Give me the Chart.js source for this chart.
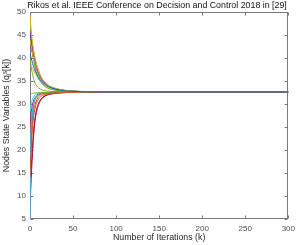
<!DOCTYPE html>
<html>
<head>
<meta charset="utf-8">
<script src="https://cdn.jsdelivr.net/npm/chart.js@4.4.1/dist/chart.umd.min.js"></script>
<style>html,body{margin:0;padding:0;background:#fff;overflow:hidden}</style>
</head>
<body>
<canvas id="chart" width="300" height="245"></canvas>
<script>
const iterations = [0, 1, 2, 3, 4, 5, 6, 8, 10, 12, 15, 20, 25, 30, 40, 50, 60, 80, 100, 150, 300];

const node01 = [41, 40.2, 39.5, 38.8, 38.2, 37.7, 37.2, 36.4, 35.7, 35.2, 34.6, 33.9, 33.5, 33.2, 32.9, 32.75, 32.68, 32.63, 32.61, 32.6, 32.6];
const node02 = [14, 18.5, 22, 24.8, 26.8, 28.2, 29.2, 30.4, 31.1, 31.5, 31.9, 32.2, 32.35, 32.42, 32.5, 32.54, 32.56, 32.58, 32.59, 32.6, 32.6];
const node03 = [49.2, 46.8, 44.8, 43.2, 41.9, 40.8, 39.8, 38.3, 37.1, 36.2, 35.2, 34.2, 33.7, 33.35, 32.98, 32.8, 32.72, 32.65, 32.62, 32.6, 32.6];
const node04 = [46, 44.6, 43.3, 42.1, 41.1, 40.2, 39.4, 38, 36.9, 36, 35.1, 34.1, 33.6, 33.3, 32.95, 32.78, 32.7, 32.64, 32.62, 32.6, 32.6];
const node05 = [31.8, 32.2, 32.3, 32.32, 32.35, 32.37, 32.4, 32.42, 32.45, 32.47, 32.5, 32.52, 32.54, 32.55, 32.57, 32.58, 32.59, 32.6, 32.6, 32.6, 32.6];
const node06 = [5, 22, 26.5, 28.8, 30, 30.8, 31.3, 31.8, 32.1, 32.25, 32.38, 32.48, 32.53, 32.56, 32.58, 32.59, 32.6, 32.6, 32.6, 32.6, 32.6];
const node07 = [8, 12, 16, 19.5, 22.5, 24.8, 26.5, 28.6, 29.9, 30.7, 31.4, 31.95, 32.2, 32.35, 32.48, 32.54, 32.57, 32.59, 32.6, 32.6, 32.6];
const node08 = [10, 20, 25.5, 28.3, 29.8, 30.7, 31.2, 31.8, 32.1, 32.25, 32.38, 32.47, 32.52, 32.55, 32.58, 32.59, 32.6, 32.6, 32.6, 32.6, 32.6];
const node09 = [22, 25, 27.3, 28.8, 29.8, 30.5, 31, 31.6, 31.95, 32.15, 32.3, 32.43, 32.5, 32.53, 32.56, 32.58, 32.59, 32.6, 32.6, 32.6, 32.6];
const node10 = [44, 43, 42, 41.1, 40.3, 39.5, 38.8, 37.6, 36.6, 35.8, 34.9, 34, 33.55, 33.25, 32.93, 32.77, 32.7, 32.64, 32.61, 32.6, 32.6];
const node11 = [25, 27.5, 29, 30, 30.6, 31.1, 31.4, 31.85, 32.1, 32.25, 32.38, 32.48, 32.53, 32.56, 32.58, 32.59, 32.6, 32.6, 32.6, 32.6, 32.6];
const node12 = [48.8, 45.5, 43, 41.2, 39.8, 38.7, 37.8, 36.5, 35.6, 34.9, 34.2, 33.5, 33.15, 32.95, 32.78, 32.7, 32.66, 32.62, 32.6, 32.6, 32.6];
const node13 = [48, 46, 44.3, 42.9, 41.7, 40.7, 39.8, 38.4, 37.2, 36.3, 35.3, 34.3, 33.75, 33.4, 33, 32.82, 32.73, 32.66, 32.62, 32.6, 32.6];
const node14 = [12, 15, 18.2, 21, 23.5, 25.6, 27.2, 29.1, 30.2, 30.9, 31.5, 32, 32.22, 32.36, 32.48, 32.54, 32.57, 32.59, 32.6, 32.6, 32.6];
const node15 = [45, 43.5, 42.2, 41.1, 40.2, 39.4, 38.7, 37.5, 36.6, 35.8, 34.9, 34, 33.55, 33.25, 32.92, 32.77, 32.7, 32.64, 32.61, 32.6, 32.6];
const node16 = [18, 21.5, 24.5, 26.6, 28.1, 29.2, 30, 31, 31.6, 31.95, 32.2, 32.38, 32.47, 32.52, 32.56, 32.58, 32.59, 32.6, 32.6, 32.6, 32.6];
const node17 = [38, 38.3, 38.1, 37.8, 37.4, 37, 36.6, 36, 35.4, 34.9, 34.3, 33.6, 33.25, 33.05, 32.85, 32.74, 32.68, 32.63, 32.61, 32.6, 32.6];
const node18 = [43, 42.4, 41.6, 40.8, 40, 39.3, 38.6, 37.4, 36.4, 35.6, 34.8, 33.95, 33.5, 33.2, 32.9, 32.76, 32.69, 32.64, 32.61, 32.6, 32.6];
const node19 = [40, 38.6, 37.4, 36.4, 35.6, 35, 34.5, 33.9, 33.5, 33.25, 33, 32.8, 32.7, 32.66, 32.63, 32.61, 32.6, 32.6, 32.6, 32.6, 32.6];
const node20 = [28, 29.6, 30.5, 31.1, 31.5, 31.8, 32, 32.2, 32.33, 32.41, 32.48, 32.53, 32.56, 32.57, 32.58, 32.59, 32.6, 32.6, 32.6, 32.6, 32.6];

const nodes = [node01, node02, node03, node04, node05, node06, node07, node08, node09, node10,
               node11, node12, node13, node14, node15, node16, node17, node18, node19, node20];

const xTicks = [0, 50, 100, 150, 200, 250, 300];
const yTicks = [5, 10, 15, 20, 25, 30, 35, 40, 45, 50];
const titleText = "Rikos et al. IEEE Conference on Decision and Control 2018 in [29]";

// matlab default line order
const colors = ["#0072BD", "#D95319", "#EDB120", "#7E2F8E", "#77AC30", "#4DBEEE", "#A2142F"];
const FONT = "'Liberation Sans', Arial, Helvetica, sans-serif";

// axes box with inward ticks, drawn under the lines; title sized to the figure's width
const matlabBox = {
  id: "matlabBox",
  beforeDatasetsDraw(chart) {
    const { ctx, chartArea: a, scales: { x, y } } = chart;
    const L = Math.round(a.left) + 0.5, R = Math.round(a.right) - 0.5;
    const T = Math.round(a.top) + 0.5, B = Math.round(a.bottom) - 0.5;
    ctx.save();
    ctx.strokeStyle = "#7a7a7a";
    ctx.lineWidth = 1;
    ctx.strokeRect(L, T, R - L, B - T);
    ctx.beginPath();
    for (const v of xTicks) {
      const px = Math.round(x.getPixelForValue(v)) + 0.5;
      ctx.moveTo(px, B); ctx.lineTo(px, B - 3);
      ctx.moveTo(px, T); ctx.lineTo(px, T + 3);
    }
    for (const v of yTicks) {
      const py = Math.round(y.getPixelForValue(v)) + 0.5;
      ctx.moveTo(L, py); ctx.lineTo(L + 3, py);
      ctx.moveTo(R, py); ctx.lineTo(R - 3, py);
    }
    ctx.stroke();

    let size = 9;
    ctx.font = `${size}px ${FONT}`;
    size = size * 260 / ctx.measureText(titleText).width;
    ctx.font = `${size}px ${FONT}`;
    ctx.fillStyle = "#111";
    ctx.textAlign = "center";
    ctx.textBaseline = "middle";
    ctx.fillText(titleText, 157, 6);
    ctx.restore();
  }
};

new Chart(document.getElementById("chart"), {
  type: "line",
  data: {
    datasets: nodes.map((vals, i) => ({
      data: vals.map((v, j) => ({ x: iterations[j], y: v })),
      borderColor: colors[i % colors.length],
      borderWidth: 1,
      pointRadius: 0,
      cubicInterpolationMode: "monotone",
      fill: false,
    })),
  },
  options: {
    responsive: false,
    devicePixelRatio: 1,
    animation: false,
    layout: { padding: { left: 0, right: 8, top: 12, bottom: 0 } },
    plugins: {
      legend: { display: false },
      tooltip: { enabled: false },
      title: { display: false },
    },
    scales: {
      x: {
        type: "linear",
        min: 0, max: 300,
        afterFit: s => { s.height = 26; },
        afterBuildTicks: s => { s.ticks = xTicks.map(v => ({ value: v })); },
        ticks: { color: "#4d4d4d", font: { family: FONT, size: 8 }, padding: 5, maxRotation: 0 },
        grid: { display: false, drawTicks: false },
        border: { display: false },
        title: { display: true, text: "Number of Iterations (k)", color: "#262626", font: { family: FONT, size: 8.8 }, padding: { top: 0, bottom: 2 } },
      },
      y: {
        min: 5, max: 50,
        afterFit: s => { s.width = 30; },
        afterBuildTicks: s => { s.ticks = yTicks.map(v => ({ value: v })); },
        ticks: { color: "#4d4d4d", font: { family: FONT, size: 8 }, padding: 4 },
        grid: { display: false, drawTicks: false },
        border: { display: false },
        title: { display: true, text: "Nodes State Variables (qⱼˢ[k])", color: "#262626", font: { family: FONT, size: 8.8 }, padding: { top: 1, bottom: 0 } },
      },
    },
  },
  plugins: [matlabBox],
});
</script>
</body>
</html>
